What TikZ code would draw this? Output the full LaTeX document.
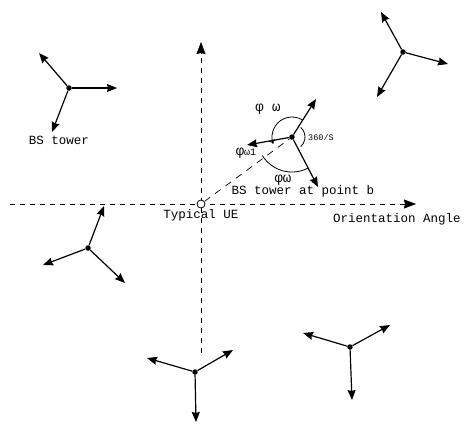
\documentclass[tikz,border=0pt]{standalone}
\usepackage{fontspec}
\setmonofont{Liberation Mono}
\usetikzlibrary{arrows.meta}
\begin{document}
\begin{tikzpicture}[x=1pt,y=-1pt,
  beam/.style={-{Stealth[length=10pt,width=8pt,inset=1pt]}, line width=1.2pt},
  axisline/.style={dash pattern=on 5pt off 5pt, line width=0.6pt,
    -{Stealth[length=12pt,width=9pt,inset=1pt]}},
  hub/.style={circle, fill, inner sep=0pt, minimum size=5.5pt},
  lbl/.style={font=\fontsize{12.5}{14}\selectfont\ttfamily, inner sep=0pt, anchor=mid},
  ang/.style={font=\fontsize{14}{15}\selectfont\ttfamily, inner sep=0pt},
  angarc/.style={line width=0.8pt},
]
\useasboundingbox (0,0) rectangle (464,424);

% coordinate axes through the typical UE
\coordinate (hL) at (10,204);
\coordinate (hR) at (416,204);
\coordinate (vB) at (201,353);
\coordinate (vT) at (201,42);
\draw[axisline] (hL) -- (hR);
\draw[axisline] (vB) -- (vT);

% BS tower hubs
\node[hub] (t1) at (69,88) {};
\node[hub] (t2) at (403,52) {};
\node[hub] (b)  at (292,137) {};
\node[hub] (t4) at (88,248) {};
\node[hub] (t5) at (195,372) {};
\node[hub] (t6) at (350,347) {};

% sector beam end points
\coordinate (t1A) at (117,88);  \coordinate (t1B) at (39,53);   \coordinate (t1C) at (52,132);
\coordinate (t2A) at (381,12);  \coordinate (t2B) at (448,64);  \coordinate (t2C) at (377,97);
\coordinate (bA)  at (316,99);  \coordinate (bB)  at (247,145); \coordinate (bC)  at (318,187);
\coordinate (t4A) at (104,206); \coordinate (t4B) at (43,265);  \coordinate (t4C) at (125,283);
\coordinate (t5A) at (147,358); \coordinate (t5B) at (233,350); \coordinate (t5C) at (196,422);
\coordinate (t6A) at (303,333); \coordinate (t6B) at (390,325); \coordinate (t6C) at (352,400);

% three sector beams per tower
\draw[beam] (t1) -- (t1A); \draw[beam] (t1) -- (t1B); \draw[beam] (t1) -- (t1C);
\draw[beam] (t2) -- (t2A); \draw[beam] (t2) -- (t2B); \draw[beam] (t2) -- (t2C);
\draw[beam] (b)  -- (bA);  \draw[beam] (b)  -- (bB);  \draw[beam] (b)  -- (bC);
\draw[beam] (t4) -- (t4A); \draw[beam] (t4) -- (t4B); \draw[beam] (t4) -- (t4C);
\draw[beam] (t5) -- (t5A); \draw[beam] (t5) -- (t5B); \draw[beam] (t5) -- (t5C);
\draw[beam] (t6) -- (t6A); \draw[beam] (t6) -- (t6B); \draw[beam] (t6) -- (t6C);

% typical UE and its link to tower b
\node[circle, draw, fill=white, line width=0.8pt, inner sep=0pt, minimum size=8pt] (ue) at (201,204) {};
\draw[dash pattern=on 7pt off 6pt, line width=0.7pt] (ue) -- (b);

% angle arcs around tower b
\draw[angarc, -{To[length=4pt,width=6pt]}] ([shift={(-58:20)}]b.center) arc[start angle=-58, end angle=-200, radius=20];
\draw[angarc] ([shift={(148:35)}]b.center) arc[start angle=148, end angle=63, radius=35];
\draw[angarc] ([shift={(-48:13)}]b.center) arc[start angle=-48, end angle=48, radius=13];

% labels
\node[ang] (phitop) at (268,109) {φ ω};
\node[ang] (phileft) at (246,153) {φ{\fontsize{10}{10}\selectfont ω1}};
\node[ang] (phibot) at (283,180) {φω};
\node[inner sep=0pt, font=\fontsize{8.5}{9}\selectfont\ttfamily] (sect) at (321,137) {360/S};
\node[lbl] (lt1) at (59,142) {BS tower};
\node[lbl] (lb) at (303,192) {BS tower at point b};
\node[lbl] (lue) at (201,216) {Typical UE};
\node[lbl] (lor) at (397,220) {Orientation Angle};
\end{tikzpicture}
\end{document}
